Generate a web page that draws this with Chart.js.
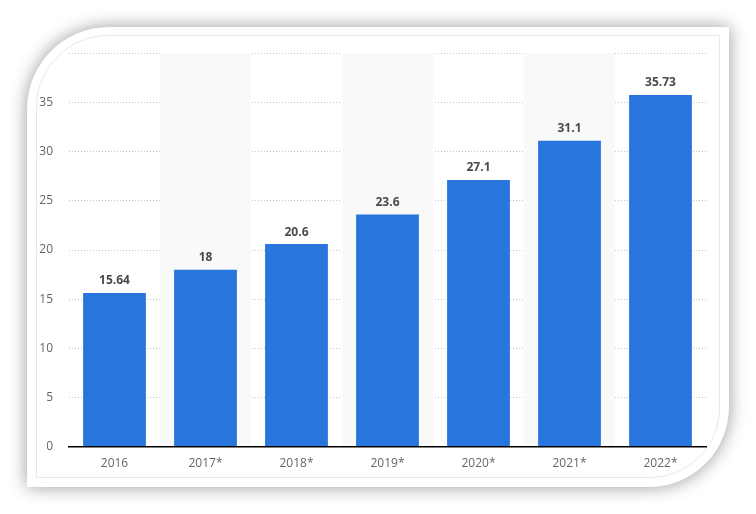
<!DOCTYPE html>
<html>
<head>
<meta charset="utf-8">
<script src="https://cdn.jsdelivr.net/npm/chart.js@4"></script>
<style>
  html, body { margin: 0; padding: 0; background: #fff; }
  body { width: 756px; height: 514px; position: relative; overflow: hidden; }
  .card {
    position: absolute; left: 27px; top: 27px; width: 702px; height: 460px;
    background: #fff; border-radius: 82px 0 80px 0;
    box-shadow: 0 0 18px rgba(0,0,0,0.4);
  }
  .inner {
    position: absolute; left: 9px; top: 8px; right: 9px; bottom: 9px;
    border: 1px solid #e8e8e8; border-radius: 72px 0 70px 0;
  }
  .wrap { position: absolute; left: 0; top: 0; width: 756px; height: 514px; }
</style>
</head>
<body>
<div class="card"><div class="inner"></div></div>
<div class="wrap"><canvas id="mainChart"></canvas></div>
<script>
const years = ['2016', '2017*', '2018*', '2019*', '2020*', '2021*', '2022*'];
const values = [15.64, 18, 20.6, 23.6, 27.1, 31.1, 35.73];
const yMax = 40;
const yStep = 5;

// light stripes behind every second category
const stripes = {
  id: 'stripes',
  beforeDatasetsDraw(chart) {
    const { ctx, scales: { x, y } } = chart;
    const w = x.getPixelForValue(1) - x.getPixelForValue(0);
    ctx.save();
    ctx.fillStyle = '#f9f9f9';
    years.forEach((yr, i) => {
      if (i % 2 === 1) {
        const cx = x.getPixelForValue(i);
        ctx.fillRect(cx - w / 2, y.getPixelForValue(yMax), w, y.getPixelForValue(0) - y.getPixelForValue(yMax));
      }
    });
    ctx.restore();
  }
};

// value labels above the bars
const valueLabels = {
  id: 'valueLabels',
  afterDatasetsDraw(chart) {
    const { ctx } = chart;
    const meta = chart.getDatasetMeta(0);
    ctx.save();
    ctx.font = 'bold 12px "Open Sans"';
    ctx.fillStyle = '#4a4a4a';
    ctx.textAlign = 'center';
    ctx.textBaseline = 'middle';
    meta.data.forEach((bar, i) => {
      ctx.fillText(String(values[i]), bar.x, bar.y - 12);
    });
    ctx.restore();
  }
};

let ctx = document.getElementById('mainChart').getContext('2d');
let chart = new Chart(ctx, {
  type: 'bar',
  data: {
    labels: years,
    datasets: [{
      data: values,
      backgroundColor: '#2876dd',
      borderWidth: 0,
      categoryPercentage: 1,
      barPercentage: 0.69
    }]
  },
  options: {
    responsive: true,
    maintainAspectRatio: false,
    animation: false,
    layout: { padding: { left: 30, top: 53, right: 50, bottom: 27 } },
    plugins: { legend: { display: false }, tooltip: { enabled: false } },
    scales: {
      x: {
        grid: { display: false, drawTicks: false },
        border: { display: true, color: '#000', width: 1.5, z: 1 },
        ticks: { color: '#666', font: { family: 'Open Sans', size: 12 }, padding: 9 },
        afterFit(scale) { scale.height = 40; }
      },
      y: {
        min: 0,
        max: yMax,
        grid: {
          drawTicks: false,
          color: (c) => c.tick && c.tick.value === 0 ? 'rgba(0,0,0,0)' : '#c4c4c4',
          lineWidth: 1
        },
        border: { display: false, dash: [1, 2] },
        ticks: {
          stepSize: yStep,
          padding: 16,
          color: '#666',
          font: { family: 'Open Sans', size: 12 },
          callback: (v) => v === yMax ? '' : v
        },
        afterFit(scale) { scale.width = 39; }
      }
    }
  },
  plugins: [stripes, valueLabels]
});
</script>
</body>
</html>
